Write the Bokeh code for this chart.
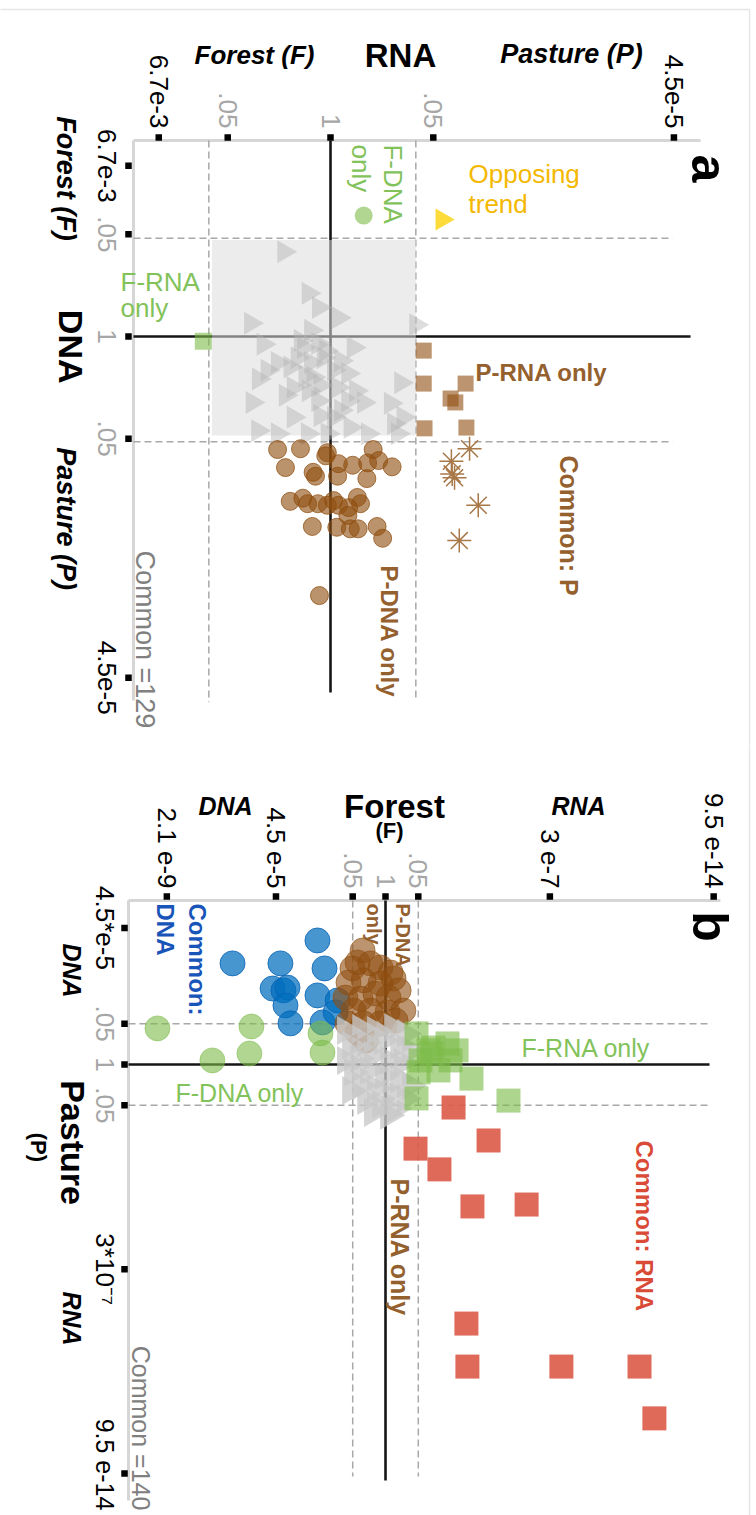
import numpy as np
from bokeh.plotting import figure
from bokeh.models import Range1d
from bokeh.layouts import column
from bokeh.core.properties import value
from bokeh.embed import file_html
from bokeh.resources import INLINE

FONT = value("Liberation Sans")
ROT = -np.pi / 2          # quarter turn clockwise for vertical text / markers

# ---------------------------------------------------------------------------
# Panel a : response in RNA (x) vs DNA (y), signed -log10(p)
#           negative = Forest (F) side, positive = Pasture (P) side
# ---------------------------------------------------------------------------
a_common_rna = [-0.59, -0.28, -0.15, 0.10, -1.01, 1.08, -0.85, 0.29, -0.25, -0.34,
                -0.16, -0.67, -0.80, -0.42, -0.51, -0.25, -0.09, 0.04, 0.22, -0.91,
                -0.22, 0.89, -0.47, -0.28, 0.09, -0.99, -0.16, 0.22, 0.42, 0.76,
                -0.47, -0.13, 0.04, 0.92, 0.13, 0.80, 0.25, -0.29, -0.67, -0.04,
                0.47, 0.85, -0.92, -0.38, -0.06, -0.32, -0.13, -0.57, 0.32, 0.13]
a_common_dna = [-1.08, -0.55, -0.37, -0.24, -0.17, -0.15, 0.10, 0.14, -0.08, 0.14,
                0.09, 0.33, 0.43, 0.27, 0.39, 0.33, 0.27, 0.43, 0.47, 0.54,
                0.52, 0.59, 0.65, 0.69, 0.65, 0.84, 0.82, 0.82, 0.84, 0.85,
                1.03, 1.01, 1.03, 1.03, 0.94, 1.11, 1.16, 1.24, 1.24, 1.24,
                1.24, 1.24, 1.20, 0.05, 0.18, 0.50, 0.62, 0.75, 0.69, 0.31]

a_pdna_rna = [-0.67, -0.38, -0.04, -0.06, -0.57, -0.22, -0.19, 0.09, 0.10, 0.28,
              0.47, 0.54, 0.61, 0.78, 0.46, -0.51, -0.35, -0.29, -0.16, -0.04,
              0.10, 0.23, 0.34, 0.38, 0.22, 0.04, -0.23, 0.08, 0.25, 0.35,
              0.59, 0.66, -0.14]
a_pdna_dna = [1.44, 1.43, 1.48, 1.52, 1.67, 1.73, 1.78, 1.78, 1.62, 1.64,
              1.61, 1.44, 1.58, 1.66, 1.81, 2.10, 2.06, 2.13, 2.13, 2.15,
              2.15, 2.18, 2.05, 2.13, 2.28, 2.09, 2.42, 2.43, 2.45, 2.45,
              2.42, 2.57, 3.30]

a_prna_rna = [1.18, 1.18, 1.71, 1.52, 1.58, 1.19, 1.72]
a_prna_dna = [0.18, 0.60, 0.60, 0.79, 0.84, 1.17, 1.16]

a_commonp_rna = [1.76, 1.53, 1.54, 1.57, 1.87, 1.63]
a_commonp_dna = [1.43, 1.59, 1.75, 1.80, 2.15, 2.60]

a_oppose_rna, a_oppose_dna = [1.41], [-1.49]
a_fdna_rna, a_fdna_dna = [0.42], [-1.54]
a_frna_rna, a_frna_dna = [-1.61], [0.06]

a_cut_rna = [-1.54, 1.08]
a_cut_dna = [-1.25, 1.34]

a_tick_p = [6.7e-3, 0.05, 1.0, 0.05, 4.5e-5]
a_tick_side = [-1, -1, 0, 1, 1]
a_tick_labels = ["6.7e-3", ".05", "1", ".05", "4.5e-5"]

# ---------------------------------------------------------------------------
# Panel b : Forest (x: DNA < 0 < RNA) vs Pasture (y: DNA < 0 < RNA)
# ---------------------------------------------------------------------------
b_common_f = [-1.59, -0.99, -0.40, 0.28, 0.79, -1.39, -0.79, -0.12, 0.52, 0.99,
              -1.59, -1.07, -0.52, 0.12, 0.67, -1.31, -0.67, -0.08, 0.52, 0.99,
              -0.99, -0.40, 0.20, 0.79, -0.79, -0.20, 0.40, -0.52, 0.12, -1.39]
b_common_p = [-1.08, -1.15, -1.08, -1.18, -0.99, -0.61, -0.70, -0.76, -0.61, -0.45,
              -0.13, -0.19, -0.29, -0.13, -0.06, 0.25, 0.19, 0.35, 0.45, 0.67,
              0.67, 0.76, 0.89, 1.08, 1.15, 1.27, 1.40, 1.53, 1.62, 0.83]

b_cdna_f = [-6.07, -4.17, -2.70, -2.42, -4.48, -4.05, -3.89, -3.97, -3.77, -2.70,
            -1.90, -2.50, -1.98]
b_cdna_p = [-3.22, -3.22, -3.95, -3.06, -2.42, -2.36, -2.45, -1.88, -1.31, -2.20,
            -2.04, -1.34, -1.66]

b_fdna_f = [-9.05, -6.87, -5.32, -5.40, -2.58, -2.50]
b_fdna_p = [-1.15, -0.13, -1.21, -0.35, -0.99, -0.38]

b_pdna_f = [-0.91, -1.11, -0.60, -0.20, 0.20, -1.47, -0.87, -0.20, 0.32, -1.59,
            -0.99, -0.40, 0.12, 0.71, -1.27, -0.60, 0.08, -1.51, -0.87, -0.20,
            0.40, -1.11, -1.31, 0.52, -0.79]
b_pdna_p = [-3.63, -3.25, -3.22, -3.09, -2.93, -2.61, -2.68, -2.58, -2.74, -2.13,
            -2.10, -2.26, -2.13, -1.72, -1.72, -1.72, -1.66, -1.31, -1.31, -1.31,
            -1.40, -1.02, -3.06, -2.36, -0.76]

b_frna_f = [1.23, 1.90, 2.82, 2.58, 2.10, 1.31, 3.41, 1.23, 4.88, 1.83, 2.46, 1.71, 1.39]
b_frna_p = [-0.99, -0.54, -0.45, -0.13, 0.19, 0.25, 0.45, 1.08, 1.15, -0.35, -0.67, -0.45, -0.13]

b_crna_f = [2.70, 1.19, 4.09, 2.14, 3.45, 5.60, 3.21, 3.25, 6.98, 10.08, 10.67]
b_crna_p = [1.37, 2.68, 2.42, 3.34, 4.52, 4.46, 8.25, 9.62, 9.62, 9.62, 11.27]

b_cut = [-1.301, 1.301]

b_forest_tick_p = [2.1e-9, 4.5e-5, 0.05, 1.0, 0.05, 3e-7, 9.5e-14]
b_forest_tick_side = [-1, -1, -1, 0, 1, 1, 1]
b_forest_tick_labels = ["2.1 e-9", "4.5 e-5", ".05", "1", ".05", "3 e-7", "9.5 e-14"]

b_pasture_tick_p = [4.5e-5, 0.05, 1.0, 0.05, 3e-7, 9.5e-14]
b_pasture_tick_side = [-1, -1, 0, 1, 1, 1]
b_pasture_tick_labels = ["4.5*e-5", ".05", "1", ".05", "3*10\u207b\u2077", "9.5 e-14"]

# colours
BROWN = "#8f4f10"
BROWN_TXT = "#93602e"
GREEN = "#7cbb49"
GREEN_TXT = "#82c25a"
BLUE = "#006ebe"
BLUE_TXT = "#1955b9"
RED = "#dc5a48"
RED_TXT = "#d94b37"
YELLOW = "#fcdb3a"
YELLOW_TXT = "#f4b800"
FRAME = "#d6d6d6"
DASH = "#a8a8a8"
TICK_GREY = "#a6a6a6"


def signed_log(p, side):
    return np.array(side, dtype=float) * -np.log10(np.array(p, dtype=float))


def make_fig(xr, yr, h):
    p = figure(width=756, height=h, x_range=xr, y_range=yr,
               output_backend="svg", toolbar_location=None,
               x_axis_location=None, y_axis_location=None,
               min_border=0, outline_line_color=None,
               background_fill_color="white", border_fill_color="white")
    p.grid.visible = False
    return p


def label(p, x, y, s, size, color="black", style="normal", angle=0.0,
          align="left", baseline="alphabetic"):
    p.text(x=[x], y=[y], text=[s], angle=angle, text_font=FONT,
           text_font_size=f"{size}px", text_font_style=style,
           text_color=color, text_align=align, text_baseline=baseline)


def tick_colors(labels):
    return [TICK_GREY if t in (".05", "1") else "black" for t in labels]


# ============================ panel a ======================================
pa = make_fig(Range1d(-4.177, 5.392), Range1d(5.210, -4.280), 745)

# image border
pa.segment(x0=[-4.2], y0=[-4.166], x1=[5.304], y1=[-4.166], line_color="#e6e6e6", line_width=1.5)
pa.segment(x0=[5.304], y0=[-4.166], x1=[5.304], y1=[5.3], line_color="#e6e6e6", line_width=1.5)

# frame (top + left)
pa.segment(x0=[-2.494, -2.494], y0=[-2.497, -2.497], x1=[4.684, -2.494], y1=[-2.497, 4.637],
           line_color=FRAME, line_width=3)

# cut-off lines
pa.segment(x0=a_cut_rna, y0=[-2.497, -2.497], x1=a_cut_rna, y1=[4.66, 4.60],
           line_color=DASH, line_width=1.5, line_dash="7 4")
pa.segment(x0=[-2.494, -2.494], y0=a_cut_dna, x1=[4.33, 4.33], y1=a_cut_dna,
           line_color=DASH, line_width=1.5, line_dash="7 4")

# zero lines
pa.segment(x0=[0, -2.494], y0=[-2.497, 0], x1=[0, 4.557], y1=[4.535, 0],
           line_color="#161616", line_width=2.6)

# shaded "non-significant in both" block
pa.quad(left=[a_cut_rna[0] + 0.04], right=[a_cut_rna[1]], top=[a_cut_dna[0] + 0.02],
        bottom=[a_cut_dna[1] - 0.08], fill_color="#dcdcdc", fill_alpha=0.55, line_color=None)

pa.scatter(a_common_rna, a_common_dna, marker="triangle", size=23, angle=ROT,
           fill_color="#b4b4b4", fill_alpha=0.45, line_color=None)
pa.scatter(a_pdna_rna, a_pdna_dna, marker="circle", size=18,
           fill_color=BROWN, fill_alpha=0.62, line_color=BROWN, line_alpha=0.75, line_width=1)
pa.scatter(a_prna_rna, a_prna_dna, marker="square", size=16,
           fill_color=BROWN, fill_alpha=0.6, line_color=None)
pa.scatter(a_commonp_rna, a_commonp_dna, marker="asterisk", size=24,
           line_color="#a87848", line_width=1.5)
pa.scatter(a_oppose_rna, a_oppose_dna, marker="triangle", size=22, angle=ROT,
           fill_color=YELLOW, line_color=None)
pa.scatter(a_fdna_rna, a_fdna_dna, marker="circle", size=18,
           fill_color=GREEN, fill_alpha=0.6, line_color=None)
pa.scatter(a_frna_rna, a_frna_dna, marker="square", size=17,
           fill_color=GREEN, fill_alpha=0.6, line_color=None)

# ticks
a_tick_pos = signed_log(a_tick_p, a_tick_side)
pa.scatter(a_tick_pos, [-2.535] * len(a_tick_pos), marker="square", size=6.5,
           fill_color="black", line_color=None)
pa.scatter([-2.557] * len(a_tick_pos), a_tick_pos, marker="square", size=6.5,
           fill_color="black", line_color=None)
pa.text(x=a_tick_pos, y=[-2.65] * len(a_tick_pos), text=a_tick_labels, angle=ROT,
        text_font=FONT, text_font_size="26px", text_color=tick_colors(a_tick_labels),
        text_align="right", text_baseline="middle")
pa.text(x=[-2.823] * len(a_tick_pos), y=a_tick_pos, text=a_tick_labels, angle=ROT,
        text_font=FONT, text_font_size="26px", text_color=tick_colors(a_tick_labels),
        text_align="center", text_baseline="middle")

# axis titles
label(pa, -0.962, -3.58, "Forest (F)", 26, style="bold italic", align="center")
label(pa, 0.886, -3.58, "RNA", 33, style="bold", align="center")
label(pa, 3.05, -3.60, "Pasture (P)", 27, style="bold italic", align="center")
label(pa, -3.342, -2.013, "Forest (F)", 27, style="bold italic", angle=ROT,
      align="center", baseline="middle")
label(pa, -3.28, 0.13, "DNA", 34, style="bold", angle=ROT, align="center", baseline="middle")
label(pa, -3.342, 2.32, "Pasture (P)", 27, style="bold italic", angle=ROT,
      align="center", baseline="middle")
label(pa, 4.785, -2.14, "a", 50, style="bold", angle=ROT, align="center", baseline="middle")

# group annotations
label(pa, 0.79, -2.446, "F-DNA", 26, color=GREEN_TXT, angle=ROT, baseline="middle")
label(pa, 0.38, -2.446, "only", 26, color=GREEN_TXT, angle=ROT, baseline="middle")
label(pa, -2.658, -0.693, "F-RNA", 26, color=GREEN_TXT)
label(pa, -2.658, -0.357, "only", 26, color=GREEN_TXT)
label(pa, 1.747, -2.064, "Opposing", 26, color=YELLOW_TXT)
label(pa, 1.747, -1.694, "trend", 26, color=YELLOW_TXT)
label(pa, 1.835, 0.459, "P-RNA only", 24, color=BROWN_TXT, style="bold")
label(pa, 3.025, 1.516, "Common: P", 25, color=BROWN_TXT, style="bold", angle=ROT, baseline="middle")
label(pa, 0.747, 2.917, "P-DNA only", 24, color=BROWN_TXT, style="bold", angle=ROT, baseline="middle")
label(pa, -2.354, 2.726, "Common =129", 27, color="#808080", angle=ROT, baseline="middle")

# ============================ panel b ======================================
pb = make_fig(Range1d(-15.278, 14.722), Range1d(14.363, -10.159), 770)

pb.segment(x0=[14.444], y0=[-10.2], x1=[14.444], y1=[14.4], line_color="#e6e6e6", line_width=1.5)

pb.segment(x0=[-10.198, -10.198], y0=[-5.223, -5.223], x1=[13.29, -10.198], y1=[-5.223, 13.885],
           line_color=FRAME, line_width=3)

pb.segment(x0=b_cut, y0=[-5.223, -5.223], x1=b_cut, y1=[13.12, 13.12],
           line_color=DASH, line_width=1.5, line_dash="7 4")
pb.segment(x0=[-10.198, -10.198], y0=b_cut, x1=[12.94, 12.94], y1=b_cut,
           line_color=DASH, line_width=1.5, line_dash="7 4")

pb.segment(x0=[0, -10.198], y0=[-5.223, 0], x1=[0, 12.857], y1=[13.25, 0],
           line_color="#161616", line_width=2.6)

pb.scatter(b_cdna_f, b_cdna_p, marker="circle", size=25,
           fill_color=BLUE, fill_alpha=0.72, line_color="#0a64b4", line_alpha=0.8)
pb.scatter(b_fdna_f, b_fdna_p, marker="circle", size=25,
           fill_color=GREEN, fill_alpha=0.6, line_color=GREEN, line_alpha=0.5)
pb.scatter(b_pdna_f, b_pdna_p, marker="circle", size=25,
           fill_color=BROWN, fill_alpha=0.6, line_color=BROWN, line_alpha=0.6)
pb.scatter(b_common_f, b_common_p, marker="triangle", size=29, angle=ROT,
           fill_color="#c8c8c8", fill_alpha=0.78, line_color=None)
pb.scatter(b_frna_f, b_frna_p, marker="square", size=24,
           fill_color=GREEN, fill_alpha=0.62, line_color=None)
pb.scatter(b_crna_f, b_crna_p, marker="square", size=24,
           fill_color=RED, fill_alpha=0.9, line_color=None)

bf_pos = signed_log(b_forest_tick_p, b_forest_tick_side)
bp_pos = signed_log(b_pasture_tick_p, b_pasture_tick_side)
pb.scatter(bf_pos, [-5.35] * len(bf_pos), marker="square", size=6.5,
           fill_color="black", line_color=None)
pb.scatter([-10.357] * len(bp_pos), bp_pos, marker="square", size=6.5,
           fill_color="black", line_color=None)
pb.text(x=bf_pos, y=[-5.605] * len(bf_pos), text=b_forest_tick_labels, angle=ROT,
        text_font=FONT, text_font_size="26px", text_color=tick_colors(b_forest_tick_labels),
        text_align="right", text_baseline="middle")
# left labels: all but the last centred on their tick; the last one kept inside the page
pb.text(x=[-11.151] * (len(bp_pos) - 1), y=bp_pos[:-1], text=b_pasture_tick_labels[:-1],
        angle=ROT, text_font=FONT, text_font_size="26px",
        text_color=tick_colors(b_pasture_tick_labels[:-1]),
        text_align="center", text_baseline="middle")
label(pb, -11.151, 14.20, b_pasture_tick_labels[-1], 25, angle=ROT, align="right",
      baseline="middle")

label(pb, -6.349, -8.248, "DNA", 25, style="bold italic", align="center")
label(pb, 0.357, -8.217, "Forest", 33, style="bold", align="center")
label(pb, 0.159, -7.452, "(F)", 22, style="bold", align="center")
label(pb, 7.659, -8.248, "RNA", 25, style="bold italic", align="center")
label(pb, -12.46, -2.994, "DNA", 25, style="bold italic", angle=ROT, align="center", baseline="middle")
label(pb, -12.42, 2.484, "Pasture", 34, style="bold", angle=ROT, align="center", baseline="middle")
label(pb, -13.77, 2.64, "(P)", 22, style="bold", angle=ROT, align="center", baseline="middle")
label(pb, -12.46, 8.09, "RNA", 25, style="bold italic", angle=ROT, align="center", baseline="middle")
label(pb, 12.857, -4.395, "b", 50, style="bold", angle=ROT, align="center", baseline="middle")

label(pb, -7.46, -5.127, "Common:", 24, color=BLUE_TXT, style="bold", angle=ROT, baseline="middle")
label(pb, -8.73, -5.127, "DNA", 24, color=BLUE_TXT, style="bold", angle=ROT, baseline="middle")
label(pb, 0.675, -5.127, "P-DNA", 20, color=BROWN_TXT, style="bold", angle=ROT, baseline="middle")
label(pb, -0.476, -5.127, "only", 20, color=BROWN_TXT, style="bold", angle=ROT, baseline="middle")
label(pb, -8.333, 0.892, "F-DNA only", 25, color=GREEN_TXT)
label(pb, 5.397, -0.541, "F-RNA only", 25, color=GREEN_TXT)
label(pb, 10.278, 2.42, "Common: RNA", 24, color=RED_TXT, style="bold", angle=ROT, baseline="middle")
label(pb, 0.595, 3.63, "P-RNA only", 25, color=BROWN_TXT, style="bold", angle=ROT, baseline="middle")
label(pb, -9.722, 14.20, "Common =140", 25, color="#808080", angle=ROT, align="right",
      baseline="middle")

layout = column(pa, pb)
open("out.html", "w").write(file_html(layout, INLINE))
